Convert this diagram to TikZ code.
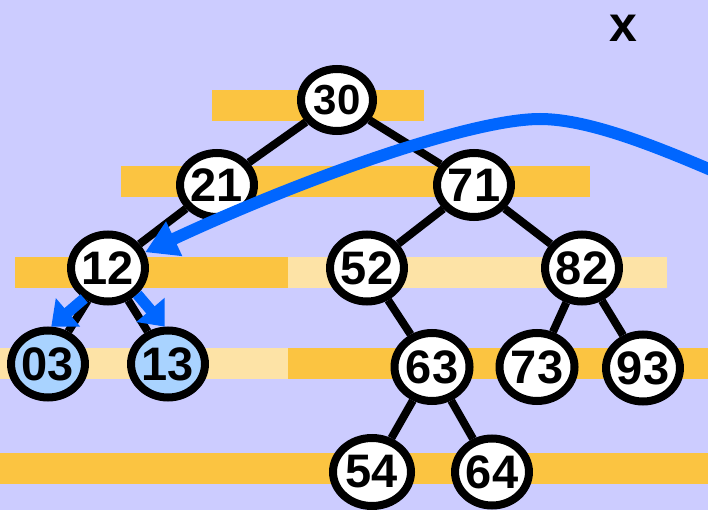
\documentclass[tikz,border=0pt]{standalone}
\usepackage{fontspec}
\setmainfont{Liberation Sans}
\usetikzlibrary{arrows.meta,shapes.geometric,backgrounds}
\definecolor{bgcol}{HTML}{CCCCFF}
\definecolor{barorange}{HTML}{FBC441}
\definecolor{barlight}{HTML}{FDE3A6}
\definecolor{arrowblue}{HTML}{0066FF}
\definecolor{hitblue}{HTML}{A9D3FF}
\begin{document}
\begin{tikzpicture}[x=1pt,y=-1pt,
  key/.style={ellipse,draw=black,line width=8pt,fill=white,minimum width=72pt,minimum height=67pt,inner sep=0pt,font=\fontsize{47}{47}\selectfont\bfseries},
  hit/.style={key,fill=hitblue},
  edge/.style={line width=8pt,black},
  bigarrow/.style={draw=arrowblue,line width=12pt,-{Triangle[length=32pt,width=36pt]}},
  smallarrow/.style={draw=arrowblue,line width=11pt,-{Triangle[length=22pt,width=36pt]}}]
\useasboundingbox (0,0) rectangle (708,510);
\clip (0,0) rectangle (708,510);
% nodes
\node[key,minimum height=62pt,font=\fontsize{42}{42}\selectfont\bfseries] (n30) at (337,100) {30};
\node[key,minimum width=70pt,minimum height=64pt] (n21) at (217,185) {21};
\node[key,minimum width=70pt,minimum height=64pt] (n71) at (474,185) {71};
\node[key] (n12) at (108,268) {12};
\node[key] (n52) at (367,268) {52};
\node[key] (n82) at (582,268) {82};
\node[hit] (n03) at (48,364) {03};
\node[hit] (n13) at (168,364) {13};
\node[key,minimum width=75pt,minimum height=68pt] (n63) at (432,367) {63};
\node[key,minimum width=75pt,minimum height=68pt] (n73) at (537,367) {73};
\node[key] (n93) at (643,368) {93};
\node[key,minimum width=78pt,minimum height=68pt] (n54) at (372,472) {54};
\node[key] (n64) at (492,472) {64};
\node[font=\fontsize{50}{50}\selectfont\bfseries] (xlab) at (623,28) {x};
\begin{scope}[on background layer]
  \fill[bgcol] (0,0) rectangle (708,510);
  \fill[barorange] (212,90) rectangle (424,121);
  \fill[barorange] (121,166) rectangle (590,197);
  \fill[barorange] (15,257) rectangle (288,288);
  \fill[barlight] (288,257) rectangle (667,288);
  \fill[barlight] (0,348) rectangle (288,379);
  \fill[barorange] (288,348) rectangle (708,379);
  \fill[barorange] (0,453) rectangle (708,484);
  \draw[edge] (n30) -- (n21);
  \draw[edge] (n30) -- (n71);
  \draw[edge] (n21) -- (n12);
  \draw[edge] (n71) -- (n52);
  \draw[edge] (n71) -- (n82);
  \draw[edge] (n12) -- (n03);
  \draw[edge] (n12) -- (n13);
  \draw[edge] (n52) -- (n63);
  \draw[edge] (n82) -- (n73);
  \draw[edge] (n82) -- (n93);
  \draw[edge] (n63) -- (n54);
  \draw[edge] (n63) -- (n64);
\end{scope}
\coordinate (cstart) at (725,176);
\draw[bigarrow] (cstart) .. controls (660,148) and (590,119) .. (540,119)
   .. controls (470,119) and (300,180) .. (n12.23);
\draw[smallarrow] (n12.-128) -- (n03.85);
\draw[smallarrow] (n12.-42) -- (n13.95);
\end{tikzpicture}
\end{document}
